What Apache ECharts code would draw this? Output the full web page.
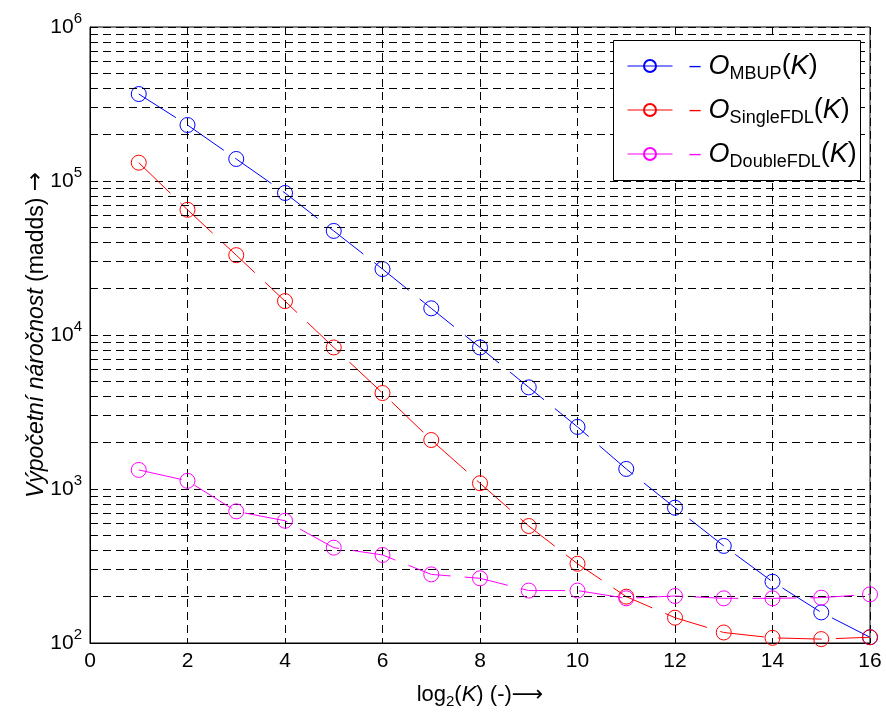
<!DOCTYPE html>
<html>
<head>
<meta charset="utf-8">
<script src="https://cdn.jsdelivr.net/npm/echarts@6/dist/echarts.min.js"></script>
<style>html,body{margin:0;padding:0;background:#fff;}#c{width:886px;height:715px;}</style>
</head>
<body>
<div id="c"></div>
<script>
const xValues = [1, 2, 3, 4, 5, 6, 7, 8, 9, 10, 11, 12, 13, 14, 15, 16];
const mbup = [367000, 231000, 139000, 83600, 47400, 26800, 14900, 8300, 4570, 2530, 1350, 756, 427, 250, 158, 109];
const singleFDL = [131500, 65000, 33000, 16600, 8300, 4200, 2080, 1090, 575, 327, 200, 146, 117, 108, 106, 109];
const doubleFDL = [1330, 1130, 716, 622, 416, 373, 279, 263, 219, 219, 195, 202, 195, 195, 197, 207];
const seriesNames = ['MBUP', 'SingleFDL', 'DoubleFDL'];
const seriesColors = ['#0000ff', '#ff0000', '#ff00ff'];
const xMin = 0, xMax = 16, xStep = 2;
const yMin = 100, yMax = 1000000;
const minorMultipliers = [2, 3, 4, 5, 6, 7, 8, 9];
const minorDecades = [100, 1000, 10000, 100000];

const minorGrid = [];
minorDecades.forEach(d => minorMultipliers.forEach(m => minorGrid.push(d * m)));

const font = '"Liberation Sans", Arial, sans-serif';
const arrowFont = '"DejaVu Sans", sans-serif';
const chart = echarts.init(document.getElementById('c'), null, {renderer: 'canvas'});

const dataSets = [mbup, singleFDL, doubleFDL];
const series = dataSets.map((arr, i) => ({
  name: seriesNames[i],
  type: 'line',
  data: xValues.map((x, j) => [x, arr[j]]),
  symbol: 'circle',
  symbolSize: 15,
  showSymbol: true,
  itemStyle: {color: 'rgba(0,0,0,0)', borderColor: seriesColors[i], borderWidth: 1},
  lineStyle: {color: seriesColors[i], width: 1, type: [44, 14]},
  emphasis: {disabled: true},
  z: 3 + i
}));
series.push({
  type: 'line',
  data: [],
  silent: true,
  markLine: {
    silent: true,
    symbol: ['none', 'none'],
    label: {show: false},
    lineStyle: {color: '#000', width: 1, type: [8, 5]},
    emphasis: {disabled: true},
    data: minorGrid.map(v => ({yAxis: v}))
  },
  z: 1
});

const legendRich = {
  o: {fontSize: 27, fontStyle: 'italic', fontFamily: font, color: '#000', lineHeight: 34},
  s: {fontSize: 18, fontFamily: font, color: '#000', padding: [16, 0, 0, 0], lineHeight: 34},
  p: {fontSize: 27, fontFamily: font, color: '#000', lineHeight: 34},
  k: {fontSize: 27, fontStyle: 'italic', fontFamily: font, color: '#000', lineHeight: 34}
};
seriesColors.forEach((c, i) => {
  legendRich['d' + i] = {fontSize: 20, fontFamily: font, color: c, padding: [0, 8, 0, 12], lineHeight: 34};
});

const option = {
  animation: false,
  backgroundColor: '#fff',
  grid: {left: 90, right: 16, top: 27, bottom: 72, show: true, borderColor: '#000', borderWidth: 1, backgroundColor: 'transparent', containLabel: false},
  graphic: [{
    type: 'rect', left: 613, top: 40, z: 10,
    shape: {width: 247, height: 140},
    style: {fill: '#fff', stroke: '#000', lineWidth: 1}
  }],
  legend: {
    orient: 'vertical',
    left: 627, top: 49,
    z: 20,
    itemWidth: 45, itemHeight: 15, itemGap: 10,
    padding: 0,
    selectedMode: false,
    lineStyle: {type: 'solid', width: 1},
    data: seriesNames,
    formatter: function (name) {
      const i = seriesNames.indexOf(name);
      return '{d' + i + '|–}{o|O}{s|' + name + '}{p|(}{k|K}{p|)}';
    },
    textStyle: {rich: legendRich, fontFamily: font}
  },
  xAxis: {
    type: 'value', min: xMin, max: xMax, interval: xStep,
    axisLine: {lineStyle: {color: '#000'}},
    axisTick: {inside: true, length: 5, lineStyle: {color: '#000'}},
    axisLabel: {color: '#000', fontSize: 21, fontFamily: font, margin: 8},
    splitLine: {show: true, lineStyle: {color: '#000', type: [8, 5]}},
    name: '{n|log}{s|2}{n|(}{i|K}{n|) (-)}{a|⟶}',
    nameLocation: 'middle', nameGap: 38,
    nameTextStyle: {rich: {
      n: {fontSize: 22, fontFamily: font, color: '#000'},
      i: {fontSize: 22, fontFamily: font, fontStyle: 'italic', color: '#000'},
      a: {fontSize: 22, fontFamily: arrowFont, color: '#000'},
      s: {fontSize: 15, fontFamily: font, color: '#000', padding: [13, 0, 0, 0]}
    }}
  },
  yAxis: {
    type: 'log', logBase: 10, min: yMin, max: yMax,
    axisLine: {lineStyle: {color: '#000'}},
    axisTick: {inside: true, length: 5, lineStyle: {color: '#000'}},
    axisLabel: {
      margin: 8, fontFamily: font,
      formatter: function (v) { return '{b|10}{e|' + Math.round(Math.log10(v)) + '}'; },
      rich: {
        b: {fontSize: 21, fontFamily: font, color: '#000'},
        e: {fontSize: 15, fontFamily: font, color: '#000', padding: [0, 0, 16, 0]}
      }
    },
    splitLine: {show: true, lineStyle: {color: '#000', type: [8, 5]}},
    name: '{i|Výpočetní náročnost}{n| (madds) }{a|→}',
    nameLocation: 'middle', nameGap: 42, nameRotate: 90, nameMoveOverlap: false,
    nameTextStyle: {rich: {
      n: {fontSize: 23, fontFamily: font, color: '#000'},
      i: {fontSize: 23, fontFamily: font, fontStyle: 'italic', color: '#000'},
      a: {fontSize: 23, fontFamily: arrowFont, color: '#000'}
    }}
  },
  series: series
};
chart.setOption(option);
</script>
</body>
</html>
